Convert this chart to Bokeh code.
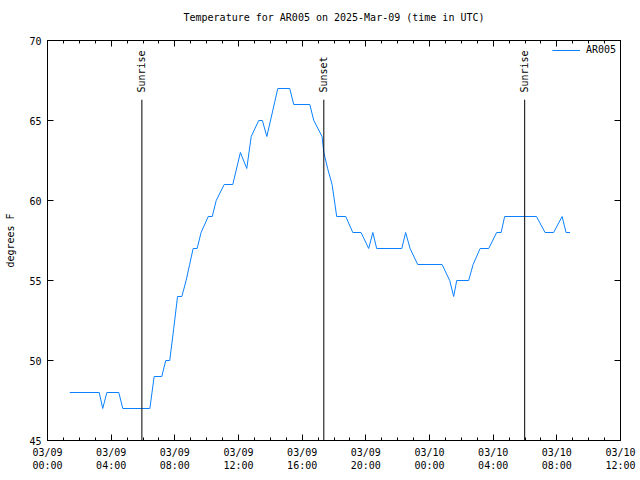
from bokeh.plotting import figure
from bokeh.models import (FixedTicker, LinearAxis, Range1d, Legend, LegendItem,
                          ColumnDataSource, Title, CustomLabelingPolicy)
from bokeh.embed import file_html
from bokeh.resources import INLINE
from bokeh.core.properties import value

# --- data (hours after 2025-03-09 00:00 UTC, temperature degrees F) ---
hours = [1.4, 3.25, 3.47, 3.73, 4.48, 4.73, 6.43, 6.7, 7.18, 7.43, 7.68, 7.93,
         8.17, 8.44, 8.71, 8.93, 9.15, 9.4, 9.65, 10.1, 10.35, 10.6, 11.1, 11.64,
         12.12, 12.52, 12.8, 13.27, 13.5, 13.78, 14.47, 15.22, 15.47, 16.48,
         16.73, 17.25, 17.36, 17.6, 17.88, 18.17, 18.74, 19.18, 19.7, 20.18,
         20.44, 20.68, 22.26, 22.5, 22.78, 23.26, 24.79, 25.27, 25.52, 25.71,
         26.46, 26.74, 27.18, 27.72, 28.22, 28.5, 28.72, 30.72, 31.26, 31.8,
         32.33, 32.58, 32.83]
temps = [48, 48, 47, 48, 48, 47, 47, 49, 49, 50, 50, 52,
         54, 54, 55, 56, 57, 57, 58, 59, 59, 60, 61, 61,
         63, 62, 64, 65, 65, 64, 67, 67, 66, 66,
         65, 64, 63, 62, 61, 59, 59, 58, 58, 57,
         58, 57, 57, 58, 57, 56, 56, 55, 54, 55,
         55, 56, 57, 57, 58, 58, 59, 59, 58, 58,
         59, 58, 58]

sun_hours = [5.93, 17.36, 29.98]
sun_labels = ["Sunrise", "Sunset", "Sunrise"]
sun_line_top = 66.3
sun_label_y = 66.75

x_ticks = [0, 4, 8, 12, 16, 20, 24, 28, 32, 36]
x_tick_labels = ["03/09\n00:00", "03/09\n04:00", "03/09\n08:00", "03/09\n12:00",
                 "03/09\n16:00", "03/09\n20:00", "03/10\n00:00", "03/10\n04:00",
                 "03/10\n08:00", "03/10\n12:00"]
x_minor = list(range(0, 37))
y_ticks = [45, 50, 55, 60, 65, 70]

title_text = "Temperature for AR005 on 2025-Mar-09 (time in UTC)"
series_name = "AR005"
y_label = "degrees F"

FONT = "DejaVu Sans Mono"
FS = "10px"
LINE_COLOR = "#0a80ff"

p = figure(width=640, height=480, x_range=Range1d(0, 36), y_range=Range1d(45, 70),
           output_backend="svg", toolbar_location=None,
           min_border_left=47, min_border_right=20, min_border_top=40, min_border_bottom=40,
           x_axis_location=None, y_axis_location=None)
p.xgrid.visible = False
p.ygrid.visible = False
p.outline_line_color = "black"
p.outline_line_alpha = 1.0
p.background_fill_color = "white"
p.border_fill_color = "white"

xt = FixedTicker(ticks=x_ticks, minor_ticks=x_minor)
yt = FixedTicker(ticks=y_ticks, minor_ticks=[])

no_labels = CustomLabelingPolicy(code="""
for (const i of indices) { indices.unset(i) }
return indices
""")


def style_axis(ax, labels=True):
    ax.axis_line_color = "black"
    ax.major_tick_line_color = "black"
    ax.minor_tick_line_color = "black"
    ax.major_tick_in = 6
    ax.major_tick_out = 0
    ax.minor_tick_in = 3
    ax.minor_tick_out = 0
    ax.major_label_text_font = FONT
    ax.major_label_text_font_size = FS
    ax.major_label_text_color = "black"
    ax.axis_label_text_font = FONT
    ax.axis_label_text_font_size = FS
    ax.axis_label_text_font_style = "normal"
    ax.axis_label_text_color = "black"
    if not labels:
        ax.major_label_policy = no_labels
        ax.major_label_standoff = 0


bottom = LinearAxis(ticker=xt, major_label_overrides={t: l for t, l in zip(x_ticks, x_tick_labels)})
style_axis(bottom)
bottom.major_label_standoff = 6
p.add_layout(bottom, "below")

top = LinearAxis(ticker=xt)
style_axis(top, labels=False)
p.add_layout(top, "above")

left = LinearAxis(ticker=yt, axis_label=y_label)
style_axis(left)
left.major_label_standoff = 6
left.axis_label_standoff = 10
p.add_layout(left, "left")

right = LinearAxis(ticker=yt)
style_axis(right, labels=False)
p.add_layout(right, "right")

t = Title(text=title_text, align="center", text_font=FONT, text_font_size=FS,
          text_font_style="normal", text_color="black", standoff=13)
p.add_layout(t, "above")

src = ColumnDataSource(dict(x=hours, y=temps))
r = p.line("x", "y", source=src, line_color=LINE_COLOR, line_width=1)

sun_src = ColumnDataSource(dict(x=sun_hours, y0=[45] * len(sun_hours),
                                y1=[sun_line_top] * len(sun_hours),
                                ly=[sun_label_y] * len(sun_hours), t=sun_labels))
p.segment(x0="x", y0="y0", x1="x", y1="y1", source=sun_src, line_color="black", line_width=1)
p.text(x="x", y="ly", text="t", source=sun_src, angle=1.5708, text_align="left",
       text_baseline="middle", text_font=value(FONT), text_font_size=FS, text_color="black")

legend = Legend(items=[LegendItem(label=series_name, renderers=[r])], location="top_right",
                border_line_color=None, background_fill_alpha=0, label_text_font=FONT,
                label_text_font_size=FS, label_text_color="black", glyph_width=28,
                glyph_height=10, padding=2, margin=4, label_standoff=6, spacing=0)
p.add_layout(legend)

open("out.html", "w").write(file_html(p, INLINE))
